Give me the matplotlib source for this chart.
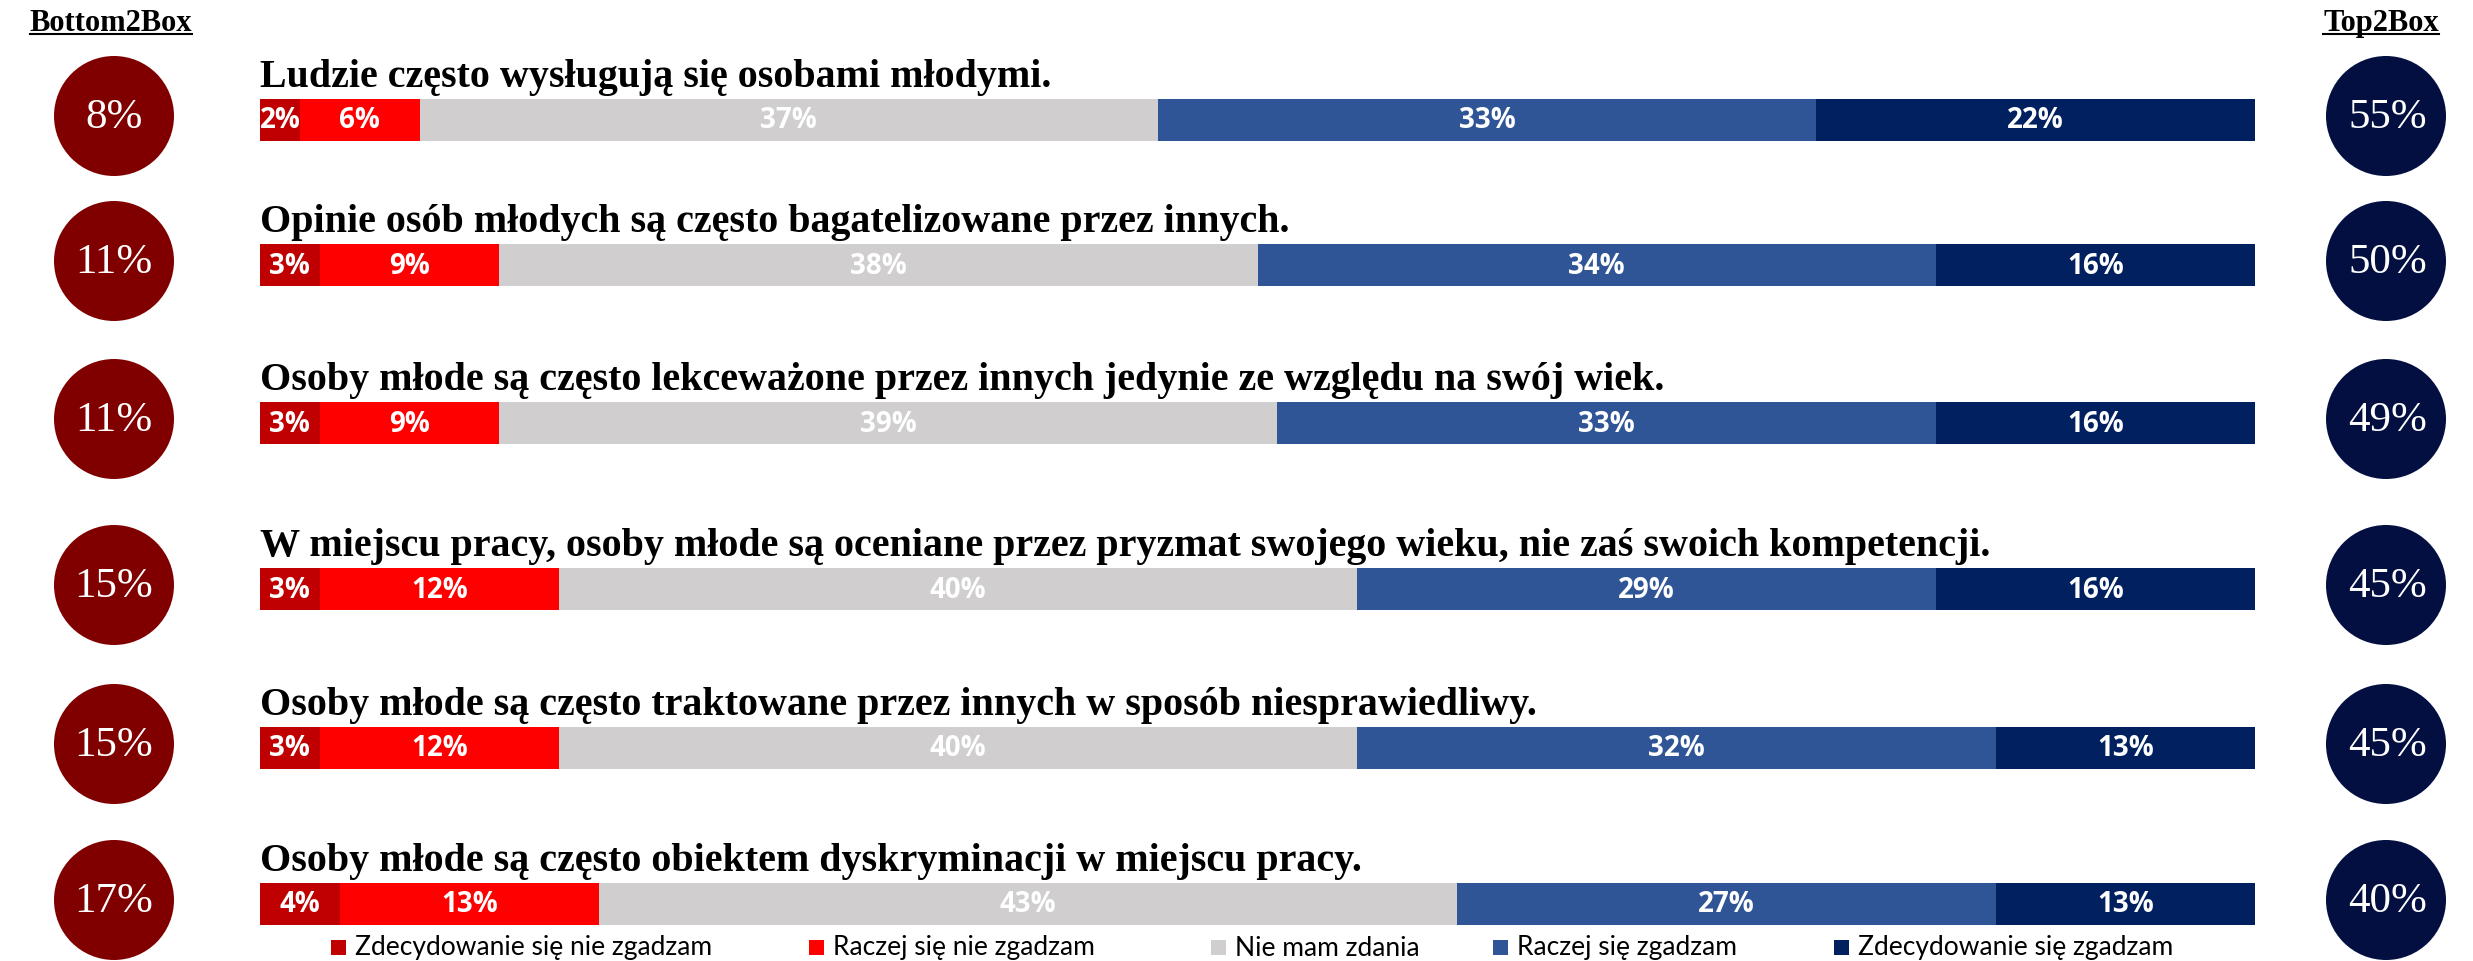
import numpy as np
import matplotlib.pyplot as plt
from matplotlib.patches import Circle, Rectangle

# data
statements = [
    "Ludzie często wysługują się osobami młodymi.",
    "Opinie osób młodych są często bagatelizowane przez innych.",
    "Osoby młode są często lekceważone przez innych jedynie ze względu na swój wiek.",
    "W miejscu pracy, osoby młode są oceniane przez pryzmat swojego wieku, nie zaś swoich kompetencji.",
    "Osoby młode są często traktowane przez innych w sposób niesprawiedliwy.",
    "Osoby młode są często obiektem dyskryminacji w miejscu pracy.",
]
categories = ["Zdecydowanie się nie zgadzam", "Raczej się nie zgadzam", "Nie mam zdania",
              "Raczej się zgadzam", "Zdecydowanie się zgadzam"]
strongly_disagree = [2, 3, 3, 3, 3, 4]
rather_disagree = [6, 9, 9, 12, 12, 13]
no_opinion = [37, 38, 39, 40, 40, 43]
rather_agree = [33, 34, 33, 29, 32, 27]
strongly_agree = [22, 16, 16, 16, 13, 13]
bottom2box = [8, 11, 11, 15, 15, 17]
top2box = [55, 50, 49, 45, 45, 40]

colors = ["#C00000", "#FF0000", "#D0CECE", "#2F5597", "#002060"]
circle_left = "#800000"
circle_right = "#020F40"

# layout (pixels of the 2473x961 canvas)
W, H = 2473, 961
row_y = [120, 265, 423, 589, 748, 904]
bar_h = 42
bar_x0, bar_x1 = 260, 2255

fig = plt.figure(figsize=(W / 100, H / 100), dpi=100)
ax = fig.add_axes([0, 0, 1, 1])
ax.set_xlim(0, W)
ax.set_ylim(H, 0)
ax.axis("off")

axb = fig.add_axes([bar_x0 / W, 0, (bar_x1 - bar_x0) / W, 1])
axb.set_xlim(0, 100)
axb.set_ylim(H, 0)
axb.axis("off")

series = [strongly_disagree, rather_disagree, no_opinion, rather_agree, strongly_agree]
left = np.zeros(len(statements))
for vals, col in zip(series, colors):
    vals = np.array(vals, dtype=float)
    axb.barh(row_y, vals, left=left, height=bar_h, color=col, linewidth=0)
    for y, l, v in zip(row_y, left, vals):
        axb.text(l + v / 2, y + 1, f"{int(v)}%", ha="center", va="center",
                 color="white", fontsize=20, fontweight="bold", family="Open Sans")
    left += vals

for y, s in zip(row_y, statements):
    axb.text(0, y - bar_h / 2 - 12, s, ha="left", va="baseline",
             fontsize=28.8, fontweight="bold", family="Liberation Serif", color="black")

# circles with Bottom2Box / Top2Box
for y, b, t in zip(row_y, bottom2box, top2box):
    ax.add_patch(Circle((114, y - 4), 60, color=circle_left, lw=0))
    ax.text(114, y - 2, f"{b}%", ha="center", va="center", color="white",
            fontsize=31, family="Liberation Serif")
    ax.add_patch(Circle((2386, y - 4), 60, color=circle_right, lw=0))
    ax.text(2388, y - 2, f"{t}%", ha="center", va="center", color="white",
            fontsize=31, family="Liberation Serif")

# underlined headers
fig.canvas.draw()
r = fig.canvas.get_renderer()
for x, lab in [(111, "Bottom2Box"), (2381, "Top2Box")]:
    txt = ax.text(x, 31, lab, ha="center", va="baseline", fontsize=22,
                  fontweight="bold", family="Liberation Serif")
    bb = txt.get_window_extent(r)
    ax.plot([bb.x0, bb.x1], [34, 34], color="black", lw=1.5)

# legend
leg_x = [331, 809, 1211, 1493, 1834]
for x, lab, col in zip(leg_x, categories, colors):
    ax.add_patch(Rectangle((x, 940), 15, 15, color=col, lw=0))
    ax.text(x + 24, 948, lab, ha="left", va="center", fontsize=19,
            family="Lato", color="black")

fig.savefig("out.png", dpi=100)
